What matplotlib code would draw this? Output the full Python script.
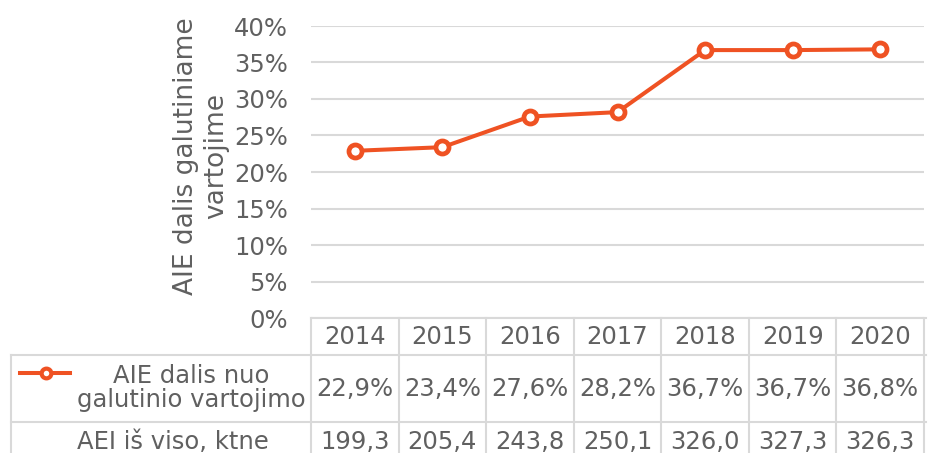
import matplotlib
matplotlib.use("Agg")
import matplotlib.pyplot as plt
from matplotlib.lines import Line2D
from matplotlib.transforms import blended_transform_factory

years = ["2014", "2015", "2016", "2017", "2018", "2019", "2020"]
share = [22.9, 23.4, 27.6, 28.2, 36.7, 36.7, 36.8]          # %
share_labels = ["22,9%", "23,4%", "27,6%", "28,2%", "36,7%", "36,7%", "36,8%"]
total_labels = ["199,3", "205,4", "243,8", "250,1", "326,0", "327,3", "326,3"]
y_ticks = [0, 5, 10, 15, 20, 25, 30, 35, 40]
y_tick_labels = [f"{t}%" for t in y_ticks]

series_name = "AIE dalis nuo\ngalutinio vartojimo"
row2_name = "AEI iš viso, ktne"
y_title = "AIE dalis galutiniame\nvartojime"

TEXT = "#606060"
GRID = "#D9D9D9"
ORANGE = "#EF5223"
FS = 17.5

W, H = 935, 453
fig = plt.figure(figsize=(W / 100, H / 100), dpi=100)
plt.rcParams["font.family"] = ["DejaVu Sans"]


def fx(px):
    return px / W


def fy(py):
    return 1 - py / H


left_px, right_px, top_px, bottom_px = 311, 924, 26, 318
ax = fig.add_axes([fx(left_px), fy(bottom_px),
                   fx(right_px) - fx(left_px), fy(top_px) - fy(bottom_px)])

x = list(range(len(years)))
ax.plot(x, share, color=ORANGE, lw=2.9, marker="o", ms=9.4,
        mfc="white", mec=ORANGE, mew=3.4, zorder=3, solid_capstyle="round")

ax.set_xlim(-0.5, len(years) - 0.5)
ax.set_ylim(0, 40)
ax.set_yticks(y_ticks)
ax.set_yticklabels(y_tick_labels)
ax.set_xticks([])
ax.tick_params(axis="y", length=0, pad=16.5, labelsize=FS, labelcolor=TEXT)
for s in ax.spines.values():
    s.set_visible(False)
ax.grid(axis="y", color=GRID, lw=1.5)
ax.set_axisbelow(True)

fig.text(fx(201), fy(156), y_title, rotation=90, ha="center", va="center",
         fontsize=19, color=TEXT, linespacing=1.2)

# data table below the plot
row_lines = [318, 355, 422]
tf = fig.transFigure
bx = blended_transform_factory(ax.transData, tf)


def hline(y, x0, x1):
    fig.add_artist(Line2D([fx(x0), fx(x1)], [fy(y), fy(y)], color=GRID,
                          lw=1.5, transform=tf))


hline(row_lines[0], left_px, right_px + 2)
hline(row_lines[1], 11, right_px + 2)
hline(row_lines[2], 11, right_px + 2)
fig.add_artist(Line2D([fx(11), fx(11)], [fy(row_lines[1]), 0], color=GRID,
                      lw=1.5, transform=tf))
for i in range(len(years) + 1):
    fig.add_artist(Line2D([i - 0.5, i - 0.5], [fy(row_lines[0]), 0],
                          color=GRID, lw=1.5, transform=bx))

for i in x:
    fig.text(i, fy(337), years[i], transform=bx, ha="center", va="center",
             fontsize=FS, color=TEXT)
    fig.text(i, fy(389), share_labels[i], transform=bx, ha="center",
             va="center", fontsize=FS, color=TEXT)
    fig.text(i, fy(442), total_labels[i], transform=bx, ha="center",
             va="center", fontsize=FS, color=TEXT)

# legend key in the table header
fig.add_artist(Line2D([fx(20), fx(70)], [fy(373), fy(373)], color=ORANGE,
                      lw=2.9, transform=tf))
fig.add_artist(Line2D([fx(46)], [fy(373)], color=ORANGE, marker="o", ms=7,
                      mfc="white", mec=ORANGE, mew=3.0, transform=tf))
fig.text(fx(191), fy(388), series_name, ha="center", va="center",
         fontsize=FS, color=TEXT, linespacing=1.05)
fig.text(fx(173), fy(442), row2_name, ha="center", va="center",
         fontsize=FS, color=TEXT)

fig.savefig("out.png", dpi=100)
